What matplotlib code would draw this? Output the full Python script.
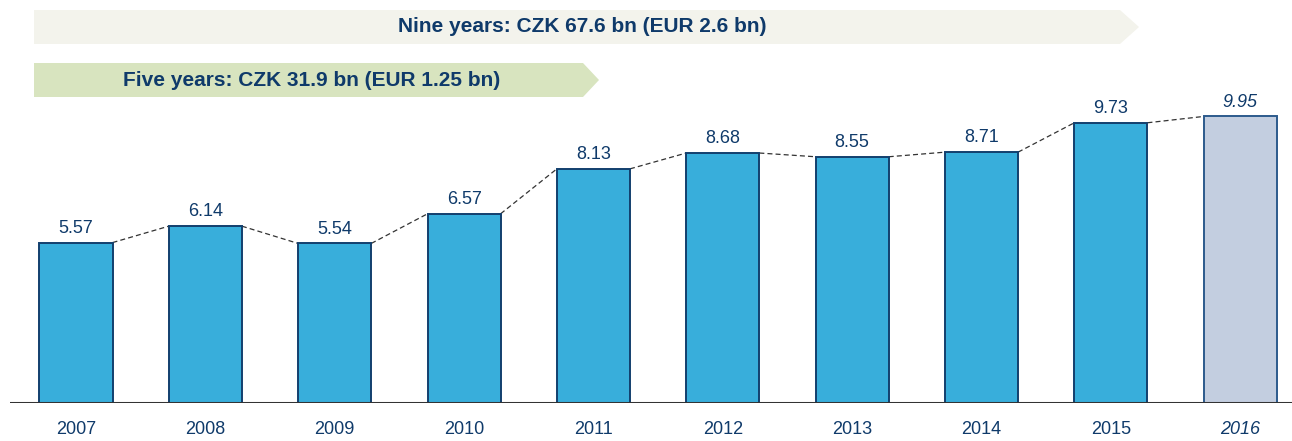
import matplotlib
matplotlib.use("Agg")
import matplotlib.pyplot as plt
from matplotlib.patches import Polygon

plt.rcParams['font.family'] = ['Liberation Sans', 'DejaVu Sans']

years = ["2007", "2008", "2009", "2010", "2011", "2012", "2013", "2014", "2015", "2016"]
values = [5.57, 6.14, 5.54, 6.57, 8.13, 8.68, 8.55, 8.71, 9.73, 9.95]
value_labels = ["5.57", "6.14", "5.54", "6.57", "8.13", "8.68", "8.55", "8.71", "9.73", "9.95"]
estimate = [False] * 9 + [True]
banner_nine = "Nine years: CZK 67.6 bn (EUR 2.6 bn)"
banner_five = "Five years: CZK 31.9 bn (EUR 1.25 bn)"

W, H = 1292, 441
fig = plt.figure(figsize=(W / 100, H / 100), dpi=100)
px_per_unit = 28.8
ax = fig.add_axes([10 / W, 38 / H, 1 - 10 / W, 403 / H])
ax.set_xlim(-0.51, 9.4)
ax.set_ylim(0, 403 / px_per_unit)

navy = "#0f3a6a"
bw = 0.565
for i, (v, est) in enumerate(zip(values, estimate)):
    fc = "#c3cee0" if est else "#38aedb"
    ec = "#2c5a8c" if est else "#123f6e"
    ax.bar(i, v, width=bw, color=fc, edgecolor=ec, linewidth=1.4, zorder=3)
    ax.text(i, v + 0.2, value_labels[i], ha="center", va="bottom", fontsize=13,
            color=navy, style="italic" if est else "normal")

for i in range(len(values) - 1):
    ax.plot([i + bw / 2, i + 1 - bw / 2], [values[i], values[i + 1]],
            ls=(0, (4, 2.5)), color="#333333", lw=0.9, zorder=2)

ax.axhline(0, color="#333333", lw=2.2, zorder=4)
for s in ax.spines.values():
    s.set_visible(False)
ax.set_yticks([])
ax.set_xticks(range(len(years)))
ax.set_xticklabels(years, fontsize=13, color=navy)
for lbl, est in zip(ax.get_xticklabels(), estimate):
    if est:
        lbl.set_style("italic")
ax.tick_params(axis="x", length=0, pad=13)

# banners in pixel coordinates
def banner(x0, x1, tip, y0, y1, color, text, tx):
    def f(x, y):
        return (x / W, 1 - y / H)
    poly = Polygon([f(x0, y0), f(x1, y0), f(tip, (y0 + y1) / 2), f(x1, y1), f(x0, y1)],
                   closed=True, transform=fig.transFigure, facecolor=color,
                   edgecolor="none", zorder=0)
    fig.patches.append(poly)
    fig.text(tx / W, 1 - ((y0 + y1) / 2) / H, text, ha="center", va="center",
             fontsize=15, fontweight="bold", color=navy)

banner(34, 1120, 1139, 10, 44, "#f3f3ec", banner_nine, 582)
banner(34, 583, 599, 63, 97, "#d8e4bf", banner_five, 312)

fig.savefig("out.png", dpi=100)
